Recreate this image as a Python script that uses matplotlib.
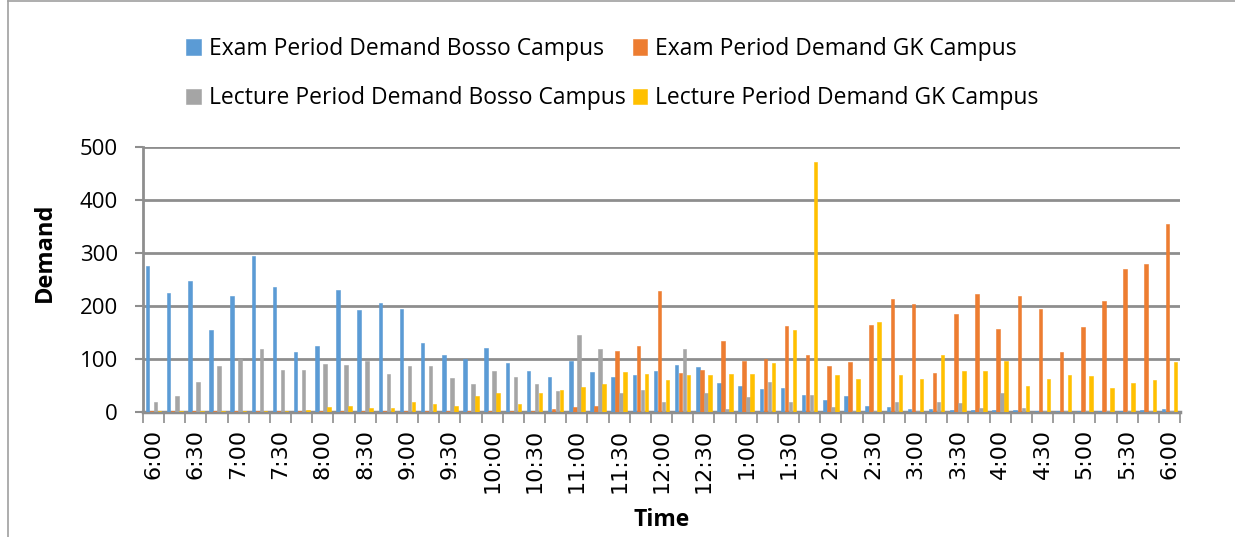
import numpy as np
import matplotlib
matplotlib.use("Agg")
import matplotlib.pyplot as plt
from matplotlib.lines import Line2D

plt.rcParams['font.family'] = ['Open Sans', 'DejaVu Sans']

# 15-minute slots from 6:00 to 6:00 (labels every 30 min)
times = []
for h in [6, 7, 8, 9, 10, 11, 12, 1, 2, 3, 4, 5]:
    for m in ["00", "15", "30", "45"]:
        times.append(f"{h}:{m}")
times.append("6:00")

exam_bosso = [276, 224, 247, 155, 218, 294, 235, 113, 124, 231, 193, 206, 194, 130, 107, 100,
              120, 93, 77, 66, 97, 75, 66, 70, 77, 88, 84, 55, 49, 43, 45, 32, 23, 30, 12, 9,
              6, 6, 4, 3, 3, 3, 1, 2, 2, 2, 2, 4, 6]
exam_gk = [1, 1, 1, 1, 1, 1, 1, 1, 1, 1, 1, 1, 1, 1, 2, 1, 1, 1, 2, 5, 10, 11, 115, 124, 229,
           74, 79, 134, 97, 100, 162, 108, 86, 94, 164, 213, 204, 74, 184, 222, 157, 219, 194,
           113, 160, 209, 269, 280, 354]
lecture_bosso = [19, 30, 57, 87, 100, 119, 79, 79, 91, 88, 97, 71, 87, 87, 64, 53, 77, 66, 52,
                 39, 145, 119, 35, 42, 18, 119, 35, 6, 28, 57, 18, 32, 10, 2, 2, 18, 2, 19, 17,
                 8, 35, 8, 2, 2, 2, 2, 2, 2, 2]
lecture_gk = [1, 1, 1, 1, 1, 1, 1, 3, 9, 11, 8, 7, 19, 15, 11, 30, 35, 16, 35, 41, 48, 52, 76,
              72, 60, 70, 69, 71, 72, 92, 154, 472, 69, 62, 169, 69, 63, 107, 78, 78, 97, 49,
              63, 69, 68, 45, 54, 60, 95]

series = [
    ("Exam Period Demand Bosso Campus", exam_bosso, "#5B9BD5"),
    ("Exam Period Demand GK Campus", exam_gk, "#ED7D31"),
    ("Lecture Period Demand Bosso Campus", lecture_bosso, "#A5A5A5"),
    ("Lecture Period Demand GK Campus", lecture_gk, "#FFC000"),
]

fig = plt.figure(figsize=(12.35, 5.37), dpi=100)
ax = fig.add_axes([143 / 1235, 1 - 412 / 537, (1180 - 143) / 1235, (412 - 147) / 537])

x = np.arange(len(times))
step = 0.19
handles = []
for k, (name, vals, col) in enumerate(series):
    b = ax.bar(x + (k - 1.5) * step, vals, width=0.165, color=col, label=name,
               edgecolor=col, linewidth=0.4, zorder=3)
    handles.append(b)

grid_col = "#8E8E8E"
ax.set_ylim(0, 500)
ax.set_yticks(range(0, 501, 100))
ax.set_xlim(-0.5, len(times) - 0.5)
ax.yaxis.grid(True, color=grid_col, linewidth=2.0, zorder=0)
ax.set_axisbelow(True)

for s in ["top", "right"]:
    ax.spines[s].set_visible(False)
ax.spines["left"].set_color(grid_col)
ax.spines["left"].set_linewidth(2.0)
ax.spines["bottom"].set_color(grid_col)
ax.spines["bottom"].set_linewidth(2.5)

ax.set_xticks(x[::2])
ax.set_xticklabels(times[::2], rotation=90, fontsize=16, family="DejaVu Sans", va="top")
ax.set_xticks(np.arange(-0.5, len(times), 1), minor=True)
ax.tick_params(axis="x", which="major", length=0, pad=12)
ax.tick_params(axis="x", which="minor", length=8, width=1.2, color=grid_col)
ax.tick_params(axis="y", length=6, width=1.5, color=grid_col, labelsize=16, pad=12)

ax.set_xlabel("Time", fontsize=16.5, fontweight="bold", labelpad=11)
ax.set_ylabel("Demand", fontsize=17, fontweight="bold")
ax.yaxis.set_label_coords(-0.083, 0.604)

# row-wise legend order
order = [0, 2, 1, 3]
fig.legend([handles[i] for i in order], [series[i][0] for i in order],
           loc="upper left", bbox_to_anchor=(186 / 1235, 1 - 37 / 537), ncol=2,
           frameon=False, fontsize=16.5, handlelength=0.65, handleheight=0.65,
           handletextpad=0.35, columnspacing=0.3, labelspacing=1.1, borderpad=0,
           borderaxespad=0)

# outer chart frame (cropped at right/bottom)
fig.add_artist(Line2D([8 / 1235, 8 / 1235], [0, 1 - 1 / 537], color="#A0A0A0", lw=1.2))
fig.add_artist(Line2D([8 / 1235, 1], [1 - 1 / 537, 1 - 1 / 537], color="#A0A0A0", lw=1.2))

fig.savefig("out.png", dpi=100)
